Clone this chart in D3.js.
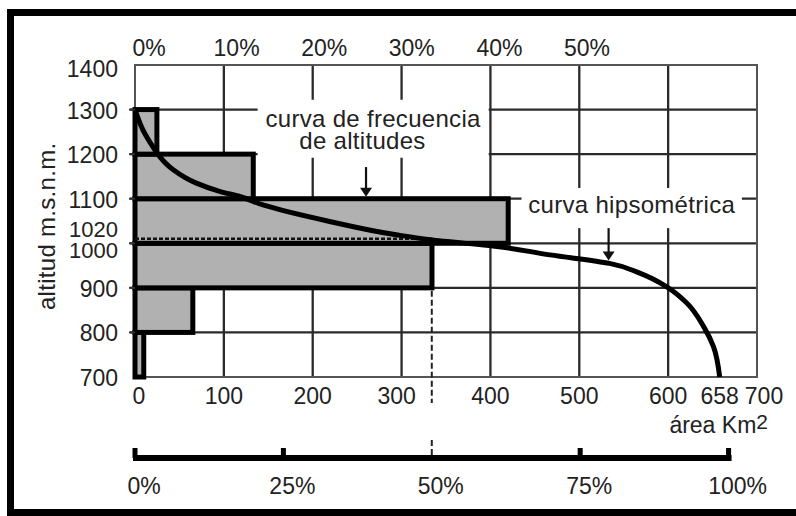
<!DOCTYPE html>
<html>
<head>
<meta charset="utf-8">
<script src="https://cdn.jsdelivr.net/npm/d3@7"></script>
<style>
  body { margin: 0; background: #fff; }
  svg text { font-family: 'Liberation Sans', Arial, sans-serif; fill: #222; }
  .note { font-size: 24px; letter-spacing: 0.3px; }
</style>
</head>
<body>
<svg id="chart" width="796" height="516"></svg>
<script>
// altitude bands (lower limit, 100 m each) and their share of the area in %
const bandLow = [700, 800, 900, 1000, 1100, 1200]
const bandPct = [1.0, 6.6, 33.9, 42.6, 13.5, 2.5]

// hypsometric curve: area above each altitude (km2)
const curveArea = [0, 9, 20, 28, 43, 69, 96, 118, 144, 219, 294, 332, 407, 467, 534, 568, 598, 621, 640, 651, 658]
const curveAlt = [1300, 1254, 1217, 1194, 1165, 1135, 1116, 1105, 1086, 1049, 1019, 1008, 993, 974, 955, 933, 903, 866, 813, 768, 700]

const xTicks = [0, 100, 200, 300, 400, 500, 600, 658, 700]
const yTicks = [700, 800, 900, 1000, 1020, 1100, 1200, 1300, 1400]
const topTicks = [0, 10, 20, 30, 40, 50]
const bottomTicks = [0, 25, 50, 75, 100]
const medianArea = 334
const medianAlt = 1010

const margin = { top: 65, left: 135 }
const width = 622
const height = 312
const font = 23

const svg = d3.select('#chart')

// outer frame (open on the right side)
svg.append('path')
  .attr('d', 'M800,12.5H10.5V512.5H800')
  .attr('fill', 'none')
  .attr('stroke', '#000')
  .attr('stroke-width', 7)

const g = svg.append('g').attr('transform', `translate(${margin.left},${margin.top})`)

const x = d3.scaleLinear().domain([0, 700]).range([0, width])
const y = d3.scaleLinear().domain([700, 1400]).range([height, 0])
const pct = d3.scaleLinear().domain([0, 71]).range([0, width])
const share = d3.scaleLinear().domain([0, 50]).range([0, x(medianArea)])

// grid
g.selectAll('.vgrid')
  .data([100, 200, 300, 400, 500, 600])
  .join('line')
  .attr('x1', (d) => x(d))
  .attr('x2', (d) => x(d))
  .attr('y1', 0)
  .attr('y2', height)
  .attr('stroke', '#2a2a2a')
  .attr('stroke-width', 2.3)

g.selectAll('.hgrid')
  .data([800, 900, 1000, 1100, 1200, 1300])
  .join('line')
  .attr('x1', -5)
  .attr('x2', width)
  .attr('y1', (d) => y(d))
  .attr('y2', (d) => y(d))
  .attr('stroke', '#2a2a2a')
  .attr('stroke-width', 2.3)

g.append('rect')
  .attr('width', width)
  .attr('height', height)
  .attr('fill', 'none')
  .attr('stroke', '#555')
  .attr('stroke-width', 2)

// white boxes behind the annotations
const boxes = [
  [138, 398, 1322, 1192],
  [435, 683, 1124, 1034],
]
g.selectAll('.box')
  .data(boxes)
  .join('rect')
  .attr('x', (d) => x(d[0]))
  .attr('width', (d) => x(d[1]) - x(d[0]))
  .attr('y', (d) => y(d[2]))
  .attr('height', (d) => y(d[3]) - y(d[2]))
  .attr('fill', '#fff')

// frequency bars
g.selectAll('.bar')
  .data(bandLow)
  .join('rect')
  .attr('x', 0)
  .attr('y', (d) => y(d + 100))
  .attr('width', (d, i) => pct(bandPct[i]))
  .attr('height', (d) => y(d) - y(d + 100))
  .attr('fill', '#b1b1b1')
  .attr('stroke', '#000')
  .attr('stroke-width', 5)

// median lines
g.append('line')
  .attr('x1', 0)
  .attr('x2', x(medianArea))
  .attr('y1', y(medianAlt))
  .attr('y2', y(medianAlt))
  .attr('stroke', '#111')
  .attr('stroke-width', 2.5)
  .attr('stroke-dasharray', '4,2')

const bottomY = height + 81
g.selectAll('.mline')
  .data([[y(900) + 3, height + 26], [bottomY - 18, bottomY]])
  .join('line')
  .attr('x1', x(medianArea))
  .attr('x2', x(medianArea))
  .attr('y1', (d) => d[0])
  .attr('y2', (d) => d[1])
  .attr('stroke', '#222')
  .attr('stroke-width', 2)
  .attr('stroke-dasharray', '6,3')

// hypsometric curve
const line = d3.line()
  .x((d) => x(d[0]))
  .y((d) => y(d[1]))
  .curve(d3.curveMonotoneY)

g.append('path')
  .datum(curveArea.map((a, i) => [a, curveAlt[i]]))
  .attr('d', line)
  .attr('fill', 'none')
  .attr('stroke', '#000')
  .attr('stroke-width', 5)

// arrows
function arrow(ax, fromAlt, toAlt) {
  const x0 = x(ax)
  const y0 = y(fromAlt)
  const y1 = y(toAlt) - 2
  g.append('line')
    .attr('x1', x0).attr('x2', x0)
    .attr('y1', y0).attr('y2', y1 - 6)
    .attr('stroke', '#111')
    .attr('stroke-width', 2.2)
  g.append('path')
    .attr('d', `M${x0 - 6},${y1 - 9}L${x0 + 6},${y1 - 9}L${x0},${y1}Z`)
    .attr('fill', '#111')
}
arrow(260, 1171, 1100)
arrow(533, 1034, 957)

// annotation texts
g.append('text')
  .attr('class', 'note')
  .attr('x', x(268))
  .attr('y', y(1261))
  .attr('text-anchor', 'middle')
  .text('curva de frecuencia')
g.append('text')
  .attr('class', 'note')
  .attr('x', x(256))
  .attr('y', y(1211))
  .attr('text-anchor', 'middle')
  .text('de altitudes')
g.append('text')
  .attr('class', 'note')
  .attr('x', x(559))
  .attr('y', y(1068))
  .attr('text-anchor', 'middle')
  .text('curva hipsométrica')

// left ticks
g.selectAll('.ytick')
  .data([800, 900, 1000, 1100, 1200, 1300])
  .join('line')
  .attr('x1', -6)
  .attr('x2', 0)
  .attr('y1', (d) => y(d))
  .attr('y2', (d) => y(d))
  .attr('stroke', '#333')
  .attr('stroke-width', 2)

// y labels (1000 and 1020 pushed apart)
const yNudge = { 1020: -6, 1000: 6, 1400: 3 }
g.selectAll('.ylab')
  .data(yTicks)
  .join('text')
  .attr('x', -17)
  .attr('y', (d) => y(d) + 1 + (yNudge[d] || 0))
  .attr('dy', '0.35em')
  .attr('text-anchor', 'end')
  .style('font-size', (d) => (d === 1000 || d === 1020 ? font - 1 : font) + 'px')
  .text((d) => d)

// x labels
const xNudge = { 0: 4, 300: -5, 700: 7 }
g.selectAll('.xlab')
  .data(xTicks)
  .join('text')
  .attr('x', (d) => x(d) + (xNudge[d] || 0))
  .attr('y', height + 27)
  .attr('text-anchor', 'middle')
  .style('font-size', font + 'px')
  .text((d) => d)

const unit = g.append('text')
  .attr('x', 633)
  .attr('y', height + 56)
  .attr('text-anchor', 'end')
  .style('font-size', '23px')
unit.append('tspan').text('área Km')
unit.append('tspan').attr('dy', -4).style('font-size', '21px').text('2')

// top % labels
g.selectAll('.toplab')
  .data(topTicks)
  .join('text')
  .attr('x', (d) => pct(d) + 14)
  .attr('y', -9)
  .attr('text-anchor', 'middle')
  .style('font-size', font + 'px')
  .text((d) => d + '%')

// y title
g.append('text')
  .attr('class', 'note')
  .attr('transform', `translate(-88,${y(1038)}) rotate(-90)`)
  .attr('text-anchor', 'middle')
  .attr('dy', '0.35em')
  .text('altitud m.s.n.m.')

// bottom share axis
g.append('line')
  .attr('x1', share(0) - 2)
  .attr('x2', share(100) + 3)
  .attr('y1', bottomY)
  .attr('y2', bottomY)
  .attr('stroke', '#000')
  .attr('stroke-width', 6)

g.selectAll('.btick')
  .data(bottomTicks.filter((d) => d !== 50))
  .join('line')
  .attr('x1', (d) => share(d))
  .attr('x2', (d) => share(d))
  .attr('y1', bottomY - 10)
  .attr('y2', bottomY)
  .attr('stroke', '#000')
  .attr('stroke-width', 5)

g.selectAll('.blab')
  .data(bottomTicks)
  .join('text')
  .attr('x', (d) => share(d) + 9)
  .attr('y', height + 117)
  .attr('text-anchor', 'middle')
  .style('font-size', font + 'px')
  .text((d) => d + '%')
</script>
</body>
</html>
